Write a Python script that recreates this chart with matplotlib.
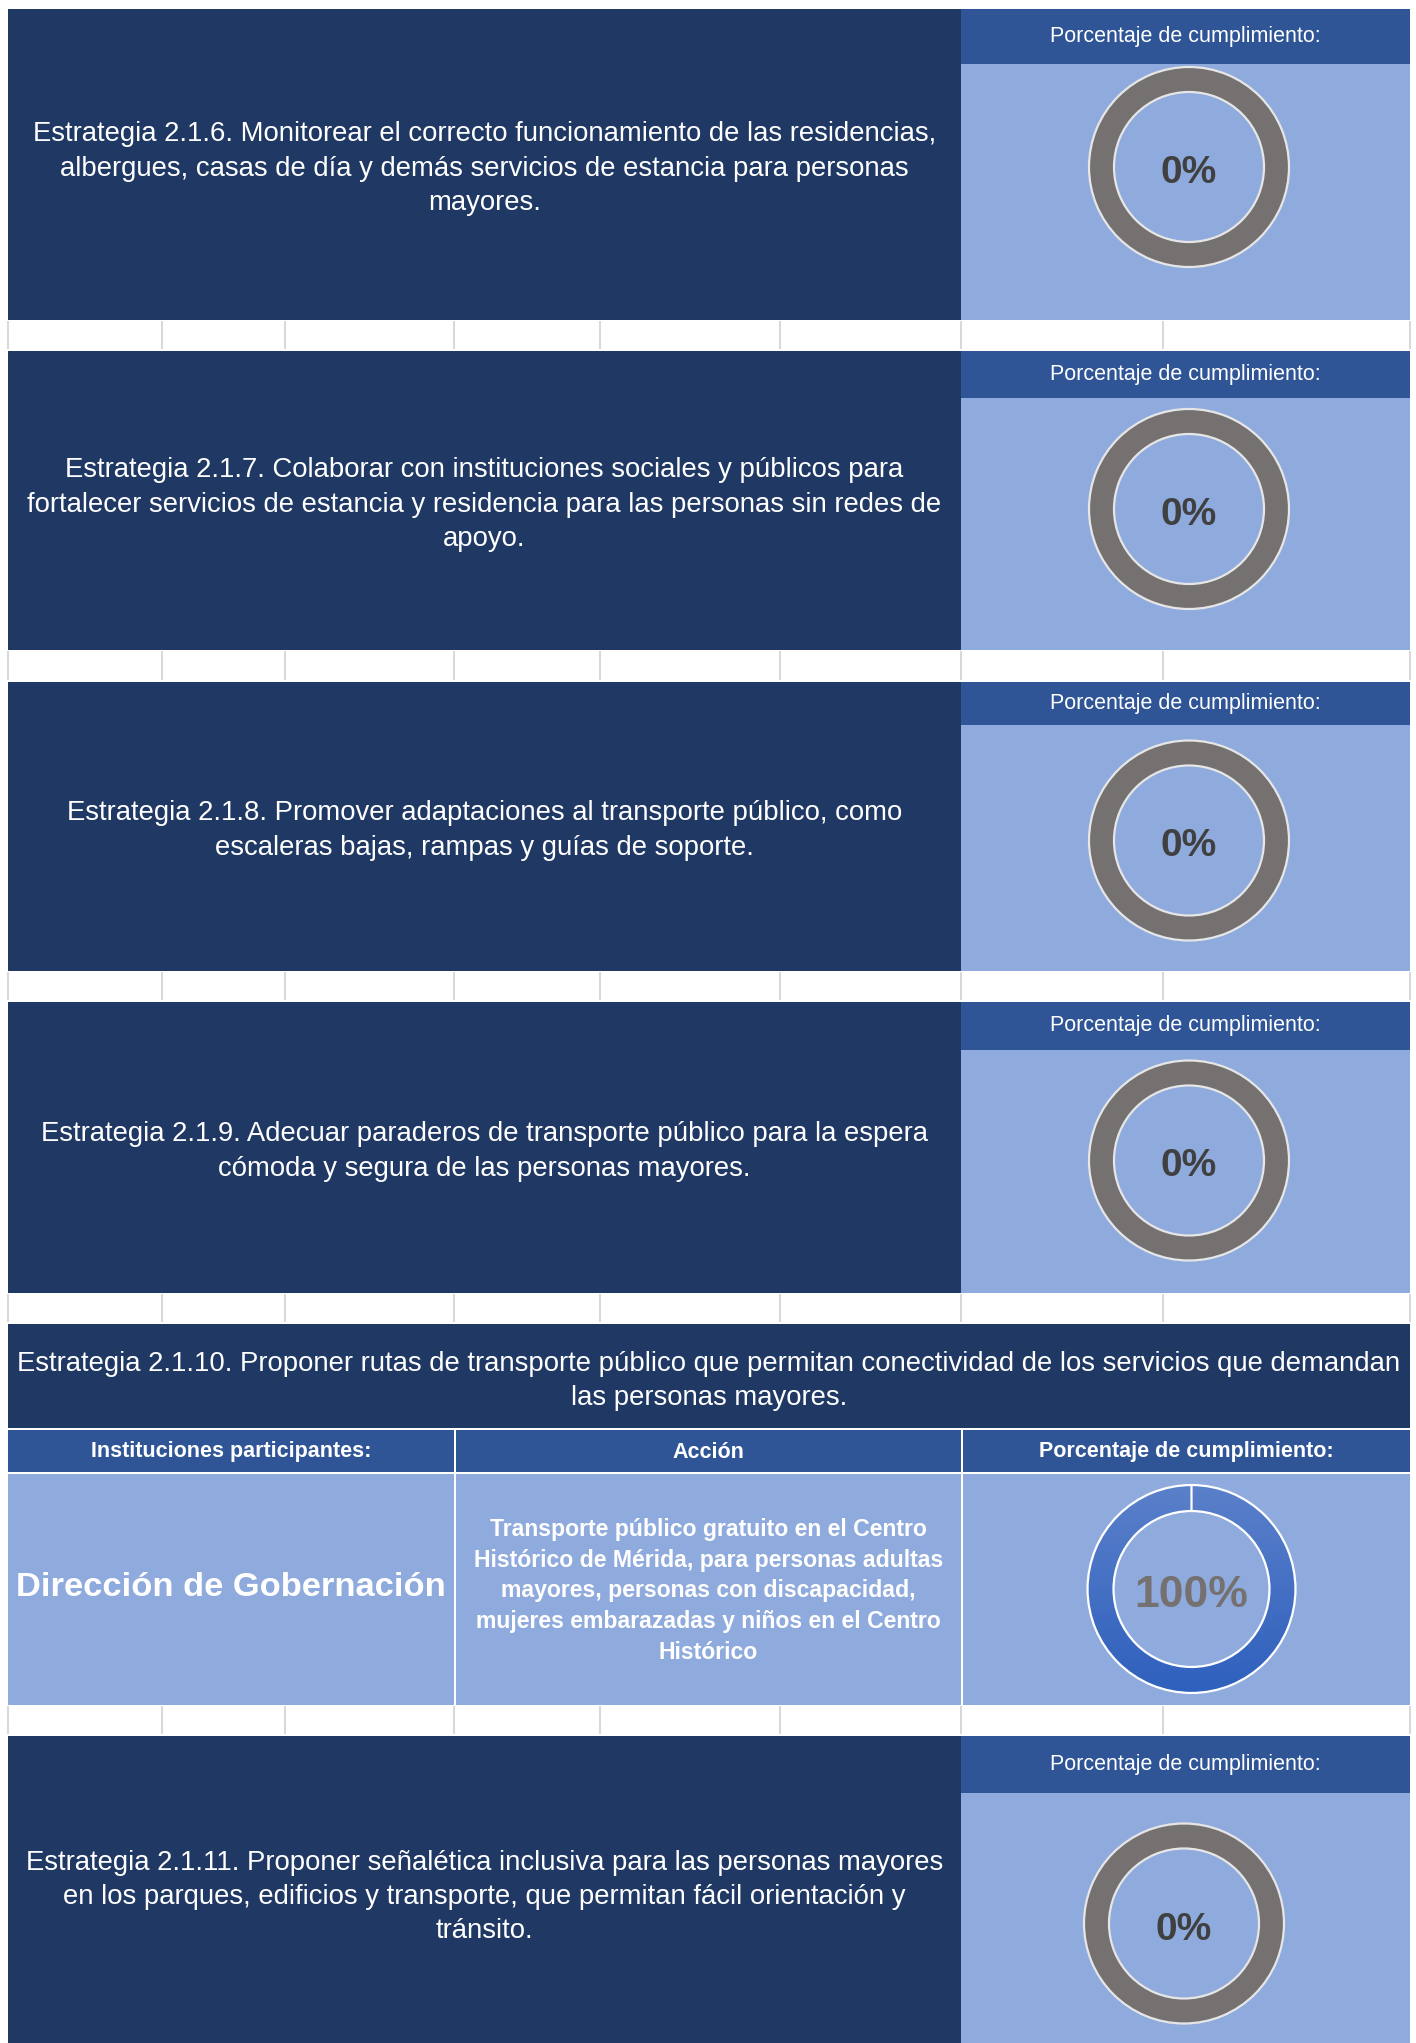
import numpy as np
import matplotlib
matplotlib.use('Agg')
import matplotlib.pyplot as plt
from matplotlib.patches import Rectangle
from matplotlib.colors import LinearSegmentedColormap

plt.rcParams['font.family'] = ['Liberation Sans', 'DejaVu Sans']

W, H = 1416, 2043

# ---- data ----
strategies = [
    "Estrategia 2.1.6. Monitorear el correcto funcionamiento de las residencias,\nalbergues, casas de día y demás servicios de estancia para personas\nmayores.",
    "Estrategia 2.1.7. Colaborar con instituciones sociales y públicos para\nfortalecer servicios de estancia y residencia para las personas sin redes de\napoyo.",
    "Estrategia 2.1.8. Promover adaptaciones al transporte público, como\nescaleras bajas, rampas y guías de soporte.",
    "Estrategia 2.1.9. Adecuar paraderos de transporte público para la espera\ncómoda y segura de las personas mayores.",
    "Estrategia 2.1.10. Proponer rutas de transporte público que permitan conectividad de los servicios que demandan\nlas personas mayores.",
    "Estrategia 2.1.11. Proponer señalética inclusiva para las personas mayores\nen los parques, edificios y transporte, que permitan fácil orientación y\ntránsito.",
]
cumplimiento = [0, 0, 0, 0, 100, 0]
header_label = "Porcentaje de cumplimiento:"
table_headers = ["Instituciones participantes:", "Acción", "Porcentaje de cumplimiento:"]
institucion = "Dirección de Gobernación"
accion = ("Transporte público gratuito en el Centro\nHistórico de Mérida, para personas adultas\n"
          "mayores, personas con discapacidad,\nmujeres embarazadas y niños en el Centro\nHistórico")

# colours
NAVY = '#203864'
BLUE = '#2F5597'
LIGHT = '#8FAADC'
GREY = '#767171'
GRID = '#d9d9d9'

# layout (pixels): top, header bottom, bottom, donut cx, donut cy, radius
simple_panels = {
    0: (9, 64, 320, 1189, 167, 101),
    1: (351, 398, 650, 1189, 509, 101),
    2: (682, 725, 971, 1189, 840.5, 101),
    3: (1002, 1050, 1293, 1189, 1160.5, 101),
    5: (1736, 1793, 2054, 1184, 1923.5, 101),
}
gaps = [(320, 350), (650, 681), (971, 1001), (1293, 1323), (1705, 1735)]
grid_x = [8, 162, 285, 454, 600, 780, 961, 1163, 1410]
X0, XM, X1 = 8, 961, 1410

fig = plt.figure(figsize=(W / 100, H / 100), dpi=100)
fig.patch.set_facecolor('white')
ax = fig.add_axes([0, 0, 1, 1])
ax.set_xlim(0, W)
ax.set_ylim(H, 0)
ax.axis('off')


def rect(x0, y0, x1, y1, color):
    ax.add_patch(Rectangle((x0, y0), x1 - x0, y1 - y0, facecolor=color, edgecolor='none'))


def donut(cx, cy, r, pct, gradient=False):
    dax = fig.add_axes([(cx - r) / W, 1 - (cy + r) / H, 2 * r / W, 2 * r / H])
    dax.axis('off')
    edge = 'white' if gradient else '#e6e6e6'
    wedges, _ = dax.pie([pct, 100 - pct], colors=['#4472C4', GREY], startangle=90,
                        counterclock=False, radius=1,
                        wedgeprops=dict(width=0.25, edgecolor=edge, linewidth=1.6))
    if gradient:
        cmap = LinearSegmentedColormap.from_list('g', ['#2e60bd', '#5b80ca'])
        w = wedges[0]
        w.set_facecolor('none')
        im = dax.imshow(np.linspace(0, 1, 256).reshape(-1, 1), cmap=cmap, origin='lower',
                        extent=[-1, 1, -1, 1], aspect='auto', zorder=0)
        im.set_clip_path(w)
        txt, col, fs = f"{pct}%", GREY, 32
    else:
        txt, col, fs = f"{pct}%", '#404040', 28
    dax.set_xlim(-1.01, 1.01)
    dax.set_ylim(-1.01, 1.01)
    dax.text(0, -0.06, txt, ha='center', va='center', fontsize=fs,
             fontweight='bold', color=col)


# simple strategy panels
for i, (top, hb, bot, cx, cy, r) in simple_panels.items():
    rect(X0, top, XM, bot, NAVY)
    rect(XM, top, X1, hb, BLUE)
    rect(XM, hb, X1, bot, LIGHT)
    ax.text((XM + X1) / 2, (top + hb) / 2, header_label, ha='center', va='center',
            fontsize=15.5, color='white')
    ty = (top + bot) / 2 + 4 if i != 5 else 1897
    ax.text((X0 + XM) / 2, ty, strategies[i], ha='center', va='center',
            fontsize=19.8, color='white', linespacing=1.42)
    donut(cx, cy, r, cumplimiento[i])

# strategy 2.1.10 table block
rect(X0, 1324, X1, 1428, NAVY)
ax.text((X0 + X1) / 2, 1381, strategies[4], ha='center', va='center',
        fontsize=19.8, color='white', linespacing=1.42)
cols = [(X0, 454), (456, XM), (963, X1)]
for (a, b), lab in zip(cols, table_headers):
    rect(a, 1430, b, 1472, BLUE)
    rect(a, 1474, b, 1705, LIGHT)
    ax.text((a + b) / 2, 1452, lab, ha='center', va='center', fontsize=15.5,
            fontweight='bold', color='white')
ax.text((cols[0][0] + cols[0][1]) / 2, 1588, institucion, ha='center', va='center',
        fontsize=24.8, fontweight='bold', color='white')
ax.text((cols[1][0] + cols[1][1]) / 2, 1591, accion, ha='center', va='center',
        fontsize=16.6, fontweight='bold', color='white', linespacing=1.43)
donut(1191.5, 1589, 105, cumplimiento[4], gradient=True)

# spreadsheet gridlines in gaps
for g0, g1 in gaps:
    ax.vlines(grid_x, g0 + 1, g1 - 1, colors=GRID, linewidth=1.5)

fig.savefig('out.png', dpi=100, facecolor='white')
